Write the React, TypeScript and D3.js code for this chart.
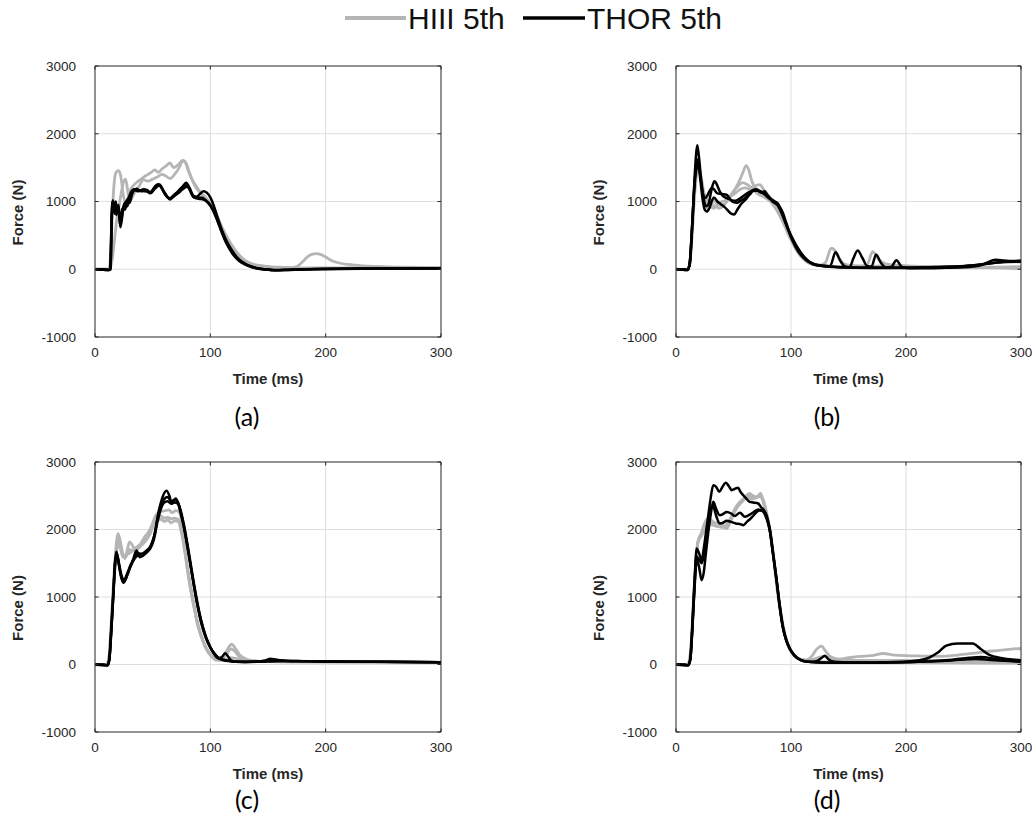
import React from "react";
import * as d3 from "d3";

type P = [number, number];

// ---------- DATA ----------
const xTicks = [0, 100, 200, 300];
const yTicks = [-1000, 0, 1000, 2000, 3000];
const xGrid = [100, 200];
const yGrid = [0, 1000, 2000];
const legendLabels = ["HIII 5th", "THOR 5th"];
const panelLabels = ["(a)", "(b)", "(c)", "(d)"];
const xLabel = "Time (ms)";
const yLabel = "Force (N)";

// Panel (a)
const a_hiii_1: P[] = [[0,0],[12,0],[13.5,200],[15,800],[16.5,1250],[18,1420],[20,1455],[21.5,1430],[23,1300],[24.5,1100],[26,1000],[28,1020],[30,1150],[33,1230],[36,1280],[40,1330],[44,1380],[48,1420],[52,1465],[55,1430],[58,1480],[62,1530],[65,1570],[68,1500],[72,1540],[76,1605],[78,1590],[81,1450],[84,1330],[88,1220],[92,1120],[96,1050],[100,980],[104,860],[108,700],[112,540],[116,400],[120,290],[125,190],[130,120],[135,80],[140,60],[150,40],[160,30],[170,25],[175,40],[180,110],[184,180],[188,220],[192,230],[196,215],[200,180],[205,130],[210,100],[220,70],[230,55],[250,40],[270,30],[300,25]];
const a_hiii_2: P[] = [[0,0],[13,0],[15,150],[17,450],[19,750],[21,950],[23,1150],[25,1300],[26.5,1330],[28,1200],[30,1000],[32,1050],[35,1150],[38,1220],[42,1320],[46,1300],[50,1330],[54,1360],[58,1400],[61,1380],[65,1340],[69,1400],[73,1500],[76,1600],[79,1560],[82,1420],[86,1250],[90,1150],[95,1080],[100,960],[105,800],[110,620],[115,460],[120,320],[125,210],[130,130],[140,60],[150,35],[160,25],[180,20],[200,20],[250,20],[300,20]];
const a_thor_1: P[] = [[0,0],[8,0],[12,-10],[13,0],[14,500],[15,1000],[16,960],[17,820],[18,970],[19,880],[20,930],[21,780],[22,640],[23,830],[24,900],[26,880],[28,1000],[30,980],[32,1100],[34,1170],[36,1190],[39,1160],[42,1180],[45,1170],[48,1130],[51,1200],[54,1250],[56,1250],[59,1160],[62,1080],[65,1040],[68,1090],[72,1150],[76,1220],[79,1275],[82,1200],[85,1090],[88,1070],[91,1110],[94,1150],[97,1130],[100,1060],[103,940],[106,780],[110,580],[114,420],[118,300],[122,200],[126,130],[130,85],[135,45],[140,20],[146,0],[152,-10],[158,-15],[165,-8],[175,-2],[190,5],[220,10],[260,15],[300,15]];
const a_thor_2: P[] = [[0,0],[12,-10],[13.5,0],[14.5,700],[15.5,980],[16.5,850],[17.5,950],[18.5,800],[19.5,900],[21,830],[22.5,700],[24,880],[26,950],[28,930],[30,1050],[33,1150],[36,1170],[40,1150],[44,1160],[48,1120],[52,1190],[56,1240],[59,1170],[62,1090],[65,1030],[68,1070],[72,1120],[76,1180],[80,1220],[83,1150],[86,1060],[90,1040],[94,1030],[98,980],[102,880],[106,720],[110,540],[114,380],[118,260],[122,170],[126,110],[130,70],[135,35],[140,15],[148,0],[155,-12],[165,-10],[180,-3],[200,3],[250,10],[300,12]];
const a_thor_3: P[] = [[0,0],[12,-10],[13.5,0],[14.5,800],[15.5,1020],[16.5,900],[18,1000],[19,870],[20.5,950],[22,620],[23.5,760],[25,950],[27,1000],[29,1050],[31,1130],[34,1180],[37,1150],[40,1170],[44,1150],[48,1140],[52,1210],[55,1250],[58,1190],[61,1100],[64,1050],[67,1060],[71,1130],[75,1200],[79,1240],[82,1180],[85,1070],[88,1050],[92,1060],[96,1020],[100,950],[104,820],[108,640],[112,470],[116,330],[120,220],[125,130],[130,75],[135,40],[140,15],[148,-5],[156,-15],[166,-10],[180,-2],[200,3],[250,8],[300,12]];

// Panel (b)
const b_hiii_1: P[] = [[0,0],[10,-5],[12,100],[14,600],[16,1150],[18,1500],[19.5,1560],[21,1400],[23,1150],[25,980],[27,900],[30,920],[33,900],[36,950],[40,940],[44,1000],[48,1100],[52,1200],[55,1300],[58,1420],[61,1530],[63,1480],[66,1300],[69,1200],[72,1150],[76,1100],[80,1050],[84,980],[88,880],[92,780],[96,640],[100,480],[104,340],[108,230],[112,150],[116,100],[120,70],[125,60],[130,100],[135,310],[138,280],[142,160],[146,80],[150,60],[160,50],[166,60],[171,260],[176,150],[182,80],[190,60],[200,50],[220,40],[250,30],[280,20],[300,10]];
const b_hiii_2: P[] = [[0,0],[10,-5],[12,80],[14,550],[16,1100],[18,1450],[20,1500],[22,1300],[24,1100],[26,1000],[28,950],[31,960],[34,930],[38,900],[42,950],[46,1050],[50,1150],[54,1230],[58,1280],[62,1250],[66,1210],[70,1240],[73,1250],[76,1180],[80,1100],[84,1000],[88,900],[92,770],[96,620],[100,460],[104,320],[108,210],[112,140],[116,90],[120,70],[130,50],[140,40],[160,40],[180,50],[200,45],[230,35],[260,30],[300,25]];
const b_hiii_3: P[] = [[0,0],[10,-5],[12,80],[14,500],[16,1050],[18,1400],[20,1480],[22,1350],[24,1150],[26,1050],[29,1000],[32,1010],[36,980],[40,1000],[44,1020],[48,1080],[52,1130],[56,1180],[60,1200],[64,1180],[68,1150],[72,1100],[76,1070],[80,1030],[84,960],[88,860],[92,730],[96,580],[100,430],[104,300],[108,200],[112,130],[116,90],[120,65],[130,50],[140,40],[170,35],[200,35],[250,30],[300,40]];
const b_thor_1: P[] = [[0,0],[8,0],[10.5,-10],[12,100],[14,600],[16,1300],[17.5,1700],[18.5,1830],[20,1650],[22,1300],[24,1050],[26,930],[28,950],[30,1100],[32,1250],[33.5,1300],[35,1270],[38,1150],[41,1080],[44,1050],[47,1030],[50,990],[53,980],[56,1010],[60,1050],[64,1120],[67,1170],[70,1180],[73,1150],[76,1130],[79,1100],[82,1050],[86,1000],[89,960],[92,850],[95,700],[98,560],[101,440],[104,350],[108,250],[112,170],[116,110],[120,80],[125,60],[130,50],[134,45],[138.7,250],[143,120],[147,40],[151,30],[154,150],[158,276],[162,170],[166,50],[170,40],[174,217],[178,100],[182,30],[187,35],[191.7,133],[196,40],[200,20],[210,15],[230,20],[250,30],[265,60],[278,140],[285,130],[292,120],[300,120]];
const b_thor_2: P[] = [[0,0],[10,-10],[12,100],[14,650],[16,1250],[18,1600],[19,1620],[21,1350],[23,1050],[25,880],[27,850],[29,900],[31,1000],[33,1060],[36,1000],[39,960],[42,920],[45,870],[48,820],[50.7,808],[53,870],[56,950],[60,1020],[64,1100],[68,1170],[71,1160],[74,1130],[77,1150],[80,1080],[84,1000],[88,950],[92,870],[96,680],[100,480],[104,330],[108,220],[112,150],[116,100],[120,70],[130,40],[140,30],[150,25],[170,20],[200,20],[230,30],[250,45],[270,80],[285,110],[300,125]];
const b_thor_3: P[] = [[0,0],[10,-10],[12,80],[14,600],[16,1200],[18,1500],[19,1550],[21,1400],[23,1150],[25,1050],[27,1080],[29,1150],[31,1200],[33,1180],[36,1120],[40,1110],[44,1100],[48,1020],[52,1010],[56,1050],[60,1100],[64,1140],[68,1160],[72,1160],[76,1120],[80,1060],[84,1010],[88,960],[92,820],[96,650],[100,500],[104,370],[108,260],[112,170],[116,110],[120,70],[130,45],[140,35],[160,25],[200,25],[240,40],[260,60],[280,100],[300,110]];

// Panel (c)
const c_hiii_1: P[] = [[0,0],[10,-5],[12,100],[14,600],[16,1200],[18,1700],[20,1940],[22,1820],[24,1650],[26,1570],[28,1700],[30,1817],[32,1780],[34,1720],[37,1750],[40,1800],[43,1890],[46,1950],[49,2050],[52,2188],[55,2250],[58,2270],[61,2280],[64,2290],[67,2250],[70,2280],[73,2260],[76,2000],[79.5,1500],[83,1150],[86,870],[88,657],[92,420],[97,212],[101,120],[105.5,64],[110,90],[114,200],[118.5,300],[122,230],[125.7,138],[130,90],[134,64],[140,50],[150,45],[170,40],[200,40],[250,35],[300,30]];
const c_hiii_2: P[] = [[0,0],[10,-5],[12,80],[14,550],[16,1150],[18,1600],[20,1850],[22,1750],[24,1620],[26,1580],[28,1640],[30,1700],[33,1690],[36,1720],[40,1780],[44,1850],[48,1950],[51,2080],[54,2130],[57,2150],[60,2120],[63,2140],[66,2100],[69,2130],[72,2120],[75,1950],[78,1650],[81,1300],[84,1000],[87,750],[90,530],[94,330],[98,190],[102,110],[106,70],[110,80],[114,150],[118,230],[121,200],[125,120],[130,70],[140,50],[160,40],[200,40],[300,30]];
const c_hiii_3: P[] = [[0,0],[10,-5],[12,80],[14,500],[16,1100],[18,1550],[20,1780],[22,1720],[24,1600],[27,1620],[30,1650],[33,1680],[36,1700],[40,1760],[44,1830],[48,1950],[51,2100],[54,2180],[57,2200],[60,2170],[63,2180],[66,2160],[69,2170],[72,2150],[75,1980],[78,1680],[81,1330],[84,1020],[87,770],[90,550],[94,340],[98,200],[102,110],[106,70],[112,60],[118,100],[122,90],[128,60],[140,45],[200,40],[300,30]];
const c_thor_1: P[] = [[0,0],[8,0],[11,-10],[12.5,100],[14,500],[16,1100],[17.5,1550],[18.5,1670],[20,1560],[22,1350],[24.5,1210],[27,1280],[30,1420],[33,1550],[36,1690],[39,1590],[42,1620],[46,1690],[49,1780],[52,1950],[55,2250],[58,2450],[62,2573],[64.5,2500],[66.5,2390],[68,2420],[70,2460],[72,2400],[74,2280],[77,2050],[80,1760],[83,1450],[86,1150],[89,870],[92.5,620],[96,410],[99.7,262],[103,160],[107,90],[110,110],[112.7,165],[115,130],[118,60],[122,40],[130,35],[140,40],[148,60],[152,85],[157,70],[165,55],[180,50],[200,45],[250,40],[300,35]];
const c_thor_2: P[] = [[0,0],[11,-10],[12.5,80],[14,450],[16,1050],[17.5,1500],[19,1640],[21,1480],[23,1320],[25,1250],[28,1350],[31,1480],[34,1580],[37,1650],[40,1640],[44,1680],[48,1750],[51,1880],[54,2150],[57,2350],[60,2450],[63,2480],[66,2420],[69,2440],[71,2420],[74,2300],[77,2080],[80,1800],[83,1490],[86,1180],[89,900],[92,650],[96,420],[100,260],[104,150],[108,85],[112,60],[116,50],[120,45],[130,40],[150,60],[155,70],[165,55],[200,45],[250,40],[300,35]];
const c_thor_3: P[] = [[0,0],[11,-10],[12.5,80],[14,480],[16,1080],[17.5,1520],[19,1620],[21,1450],[23,1280],[25,1220],[28,1330],[31,1460],[34,1560],[37,1610],[40,1600],[44,1650],[48,1720],[51,1850],[54,2100],[57,2300],[60,2400],[63,2420],[66,2380],[69,2400],[72,2380],[74,2260],[77,2040],[80,1760],[83,1450],[86,1140],[89,860],[92,620],[96,400],[100,250],[104,150],[108,90],[112,70],[116,55],[120,45],[140,40],[160,50],[200,45],[300,35]];

// Panel (d)
const d_hiii_1: P[] = [[0,0],[10,-5],[12,100],[14,550],[16,1200],[19.4,1842],[22,1950],[25,2100],[28,2163],[31,2130],[34,2100],[38,2089],[41,2050],[44,2015],[47,2100],[50,2220],[53,2320],[55.6,2385],[58,2430],[61,2500],[64,2533],[67,2500],[70,2480],[73.6,2533],[76,2420],[79,2200],[81.7,1980],[84,1700],[87,1300],[90,900],[93,580],[96,370],[99,240],[103,140],[108,80],[113,70],[118,120],[122,220],[126.6,272],[130,200],[135,110],[142,80],[150,100],[160,120],[170,130],[180,163],[190,140],[200,130],[215,125],[230,120],[245,140],[260,170],[275,200],[290,225],[300,237]];
const d_hiii_2: P[] = [[0,0],[10,-5],[12,80],[14,500],[16,1150],[19,1800],[22,1920],[25,2050],[28,2120],[31,2100],[34,2060],[38,2040],[42,2030],[46,2120],[50,2250],[54,2350],[58,2420],[62,2480],[66,2450],[70,2470],[73,2500],[76,2400],[79,2180],[82,1950],[85,1550],[88,1100],[91,750],[94,470],[97,300],[101,170],[106,90],[112,60],[120,80],[128,120],[134,90],[145,60],[170,60],[200,60],[240,60],[270,50],[300,40]];
const d_hiii_3: P[] = [[0,0],[10,-5],[12,80],[14,520],[16,1180],[19,1820],[22,1900],[25,2000],[28,2080],[31,2070],[35,2050],[39,2040],[43,2060],[47,2150],[51,2300],[55,2400],[59,2460],[63,2500],[67,2470],[71,2490],[74,2480],[77,2380],[80,2150],[83,1850],[86,1450],[89,1020],[92,680],[95,430],[98,270],[102,150],[107,80],[115,50],[130,40],[160,35],[200,30],[250,25],[300,20]];
const d_thor_1: P[] = [[0,0],[8,0],[10.7,-10],[12.5,100],[14,500],[16,1200],[18,1720],[20,1650],[22.3,1550],[24,1700],[26,1950],[28,2200],[30,2450],[32.4,2657],[35,2630],[37.6,2558],[40,2620],[43.4,2691],[46,2640],[48.4,2583],[51,2600],[54,2620],[56,2560],[58.5,2508],[61,2460],[64,2410],[67,2400],[71.5,2385],[74,2330],[76,2296],[79,2200],[81.7,1990],[84,1700],[87.5,1250],[90,900],[93,558],[96,360],[99,237],[103,140],[107.7,74],[112,50],[116,40],[122,50],[126,90],[129.5,128],[133,70],[138,40],[150,30],[170,30],[197.5,40],[210,60],[220,100],[228,180],[235,280],[245,311],[258,311],[265,230],[273,138],[285,90],[300,64]];
const d_thor_2: P[] = [[0,0],[10.7,-10],[12.5,80],[14,450],[16,1100],[18,1550],[20,1450],[22.3,1250],[24,1350],[26,1650],[28,1950],[30,2200],[32.4,2410],[35,2300],[38,2212],[41,2230],[44,2260],[48,2237],[51,2200],[55.6,2247],[60,2188],[63,2210],[67,2250],[71.5,2296],[74,2280],[76,2260],[79,2150],[81.7,1970],[84,1680],[87.5,1230],[90,880],[93,540],[96,350],[99,230],[103,130],[108,70],[115,40],[130,30],[150,25],[180,30],[210,40],[240,70],[255,100],[265,110],[280,80],[300,60]];
const d_thor_3: P[] = [[0,0],[10.7,-10],[12.5,80],[14,480],[16,1150],[18,1600],[20,1550],[22.3,1500],[24,1600],[26,1850],[28,2100],[30,2300],[32,2350],[35,2200],[38,2089],[41,2100],[44,2130],[48,2113],[52,2090],[56,2080],[58.5,2064],[62,2120],[64,2148],[67,2200],[71,2270],[74,2290],[76,2280],[79,2180],[81.7,1990],[84,1700],[87.5,1250],[90,890],[93,550],[96,350],[99,230],[103,130],[108,70],[115,40],[130,25],[160,25],[200,35],[240,60],[260,80],[280,60],[300,40]];

const hiiiSeries = [
  [a_hiii_1, a_hiii_2],
  [b_hiii_1, b_hiii_2, b_hiii_3],
  [c_hiii_1, c_hiii_2, c_hiii_3],
  [d_hiii_1, d_hiii_2, d_hiii_3],
];
const thorSeries = [
  [a_thor_1, a_thor_2, a_thor_3],
  [b_thor_1, b_thor_2, b_thor_3],
  [c_thor_1, c_thor_2, c_thor_3],
  [d_thor_1, d_thor_2, d_thor_3],
];

// ---------- LAYOUT ----------
const W = 1032;
const H = 830;
const panels = [
  { x0: 95, x1: 441, y0: 66, y1: 337, capX: 247, capY: 426 },
  { x0: 676, x1: 1021, y0: 66, y1: 337, capX: 827, capY: 426 },
  { x0: 95, x1: 441, y0: 462, y1: 732, capX: 247, capY: 809 },
  { x0: 676, x1: 1021, y0: 462, y1: 732, capX: 827, capY: 809 },
];
const GRAY = "#b5b5b5";
const BLACK = "#000000";
const AXIS = "#262626";
const FONT = "'Liberation Sans', Arial, Helvetica, sans-serif";

function Panel({ idx }: { idx: number }) {
  const p = panels[idx];
  const x = d3.scaleLinear().domain([0, 300]).range([p.x0, p.x1]);
  const y = d3.scaleLinear().domain([-1000, 3000]).range([p.y1, p.y0]);
  const line = d3
    .line<P>()
    .x((d) => x(d[0]))
    .y((d) => y(d[1]))
    .curve(d3.curveMonotoneX);
  const tl = 3.5;
  const midY = (p.y0 + p.y1) / 2 + 11;
  return (
    <g>
      {xGrid.map((v) => (
        <line key={"gx" + v} x1={x(v)} x2={x(v)} y1={p.y0} y2={p.y1} stroke="#dedede" strokeWidth={1} />
      ))}
      {yGrid.map((v) => (
        <line key={"gy" + v} x1={p.x0} x2={p.x1} y1={y(v)} y2={y(v)} stroke="#dedede" strokeWidth={1} />
      ))}
      <g clipPath={`url(#clip${idx})`}>
        {hiiiSeries[idx].map((s, i) => (
          <path key={"h" + i} d={line(s) || ""} fill="none" stroke={GRAY} strokeWidth={2.8} strokeLinejoin="round" />
        ))}
        {thorSeries[idx].map((s, i) => (
          <path key={"t" + i} d={line(s) || ""} fill="none" stroke={BLACK} strokeWidth={2.5} strokeLinejoin="round" />
        ))}
      </g>
      {/* box */}
      <line x1={p.x0} x2={p.x1} y1={p.y0} y2={p.y0} stroke={AXIS} strokeWidth={1} />
      <line x1={p.x1} x2={p.x1} y1={p.y0} y2={p.y1} stroke={AXIS} strokeWidth={1} />
      <line x1={p.x0} x2={p.x1} y1={p.y1} y2={p.y1} stroke={AXIS} strokeWidth={1} />
      <line x1={p.x0} x2={p.x0} y1={p.y0} y2={p.y1} stroke="#555" strokeWidth={1.3} />
      {/* ticks */}
      {xTicks.map((v) => (
        <g key={"tx" + v}>
          <line x1={x(v)} x2={x(v)} y1={p.y1} y2={p.y1 - tl} stroke={AXIS} />
          <line x1={x(v)} x2={x(v)} y1={p.y0} y2={p.y0 + tl} stroke={AXIS} />
          <text x={x(v)} y={p.y1 + 20} textAnchor="middle" fontFamily={FONT} fontSize={13.5} fill={AXIS}>
            {v}
          </text>
        </g>
      ))}
      {yTicks.map((v) => (
        <g key={"ty" + v}>
          <line x1={p.x0} x2={p.x0 + tl} y1={y(v)} y2={y(v)} stroke={AXIS} />
          <line x1={p.x1} x2={p.x1 - tl} y1={y(v)} y2={y(v)} stroke={AXIS} />
          <text x={p.x0 - 19} y={y(v)} dy="0.36em" textAnchor="end" fontFamily={FONT} fontSize={13.5} fill={AXIS}>
            {v}
          </text>
        </g>
      ))}
      <text x={(p.x0 + p.x1) / 2} y={p.y1 + 47} textAnchor="middle" fontFamily={FONT} fontSize={15} fontWeight="bold" fill={AXIS}>
        {xLabel}
      </text>
      <text
        transform={`translate(${p.x0 - 72},${midY}) rotate(-90)`}
        textAnchor="middle"
        fontFamily={FONT}
        fontSize={15}
        fontWeight="bold"
        fill={AXIS}
      >
        {yLabel}
      </text>
      <text x={p.capX} y={p.capY} textAnchor="middle" fontFamily="Lato, 'Open Sans', sans-serif" fontSize={25} fill="#000">
        {panelLabels[idx]}
      </text>
    </g>
  );
}

export default function App() {
  return (
    <svg
      width={W}
      height={H}
      viewBox={`0 0 ${W} ${H}`}
      style={{ position: "absolute", left: 0, top: 0, display: "block", background: "#fff" }}
    >
      <defs>
        {panels.map((p, i) => (
          <clipPath key={i} id={`clip${i}`}>
            <rect x={p.x0} y={p.y0} width={p.x1 - p.x0} height={p.y1 - p.y0} />
          </clipPath>
        ))}
      </defs>
      <rect x={0} y={0} width={W} height={H} fill="#fff" />
      {/* legend */}
      <line x1={345} x2={406} y1={18} y2={18} stroke={GRAY} strokeWidth={4} />
      <text x={408} y={29} fontFamily={FONT} fontSize={30} fill="#111">
        {legendLabels[0]}
      </text>
      <line x1={523} x2={585} y1={18} y2={18} stroke={BLACK} strokeWidth={3.5} />
      <text x={587} y={29} fontFamily={FONT} fontSize={30} fill="#111">
        {legendLabels[1]}
      </text>
      {panels.map((_, i) => (
        <Panel key={i} idx={i} />
      ))}
    </svg>
  );
}
